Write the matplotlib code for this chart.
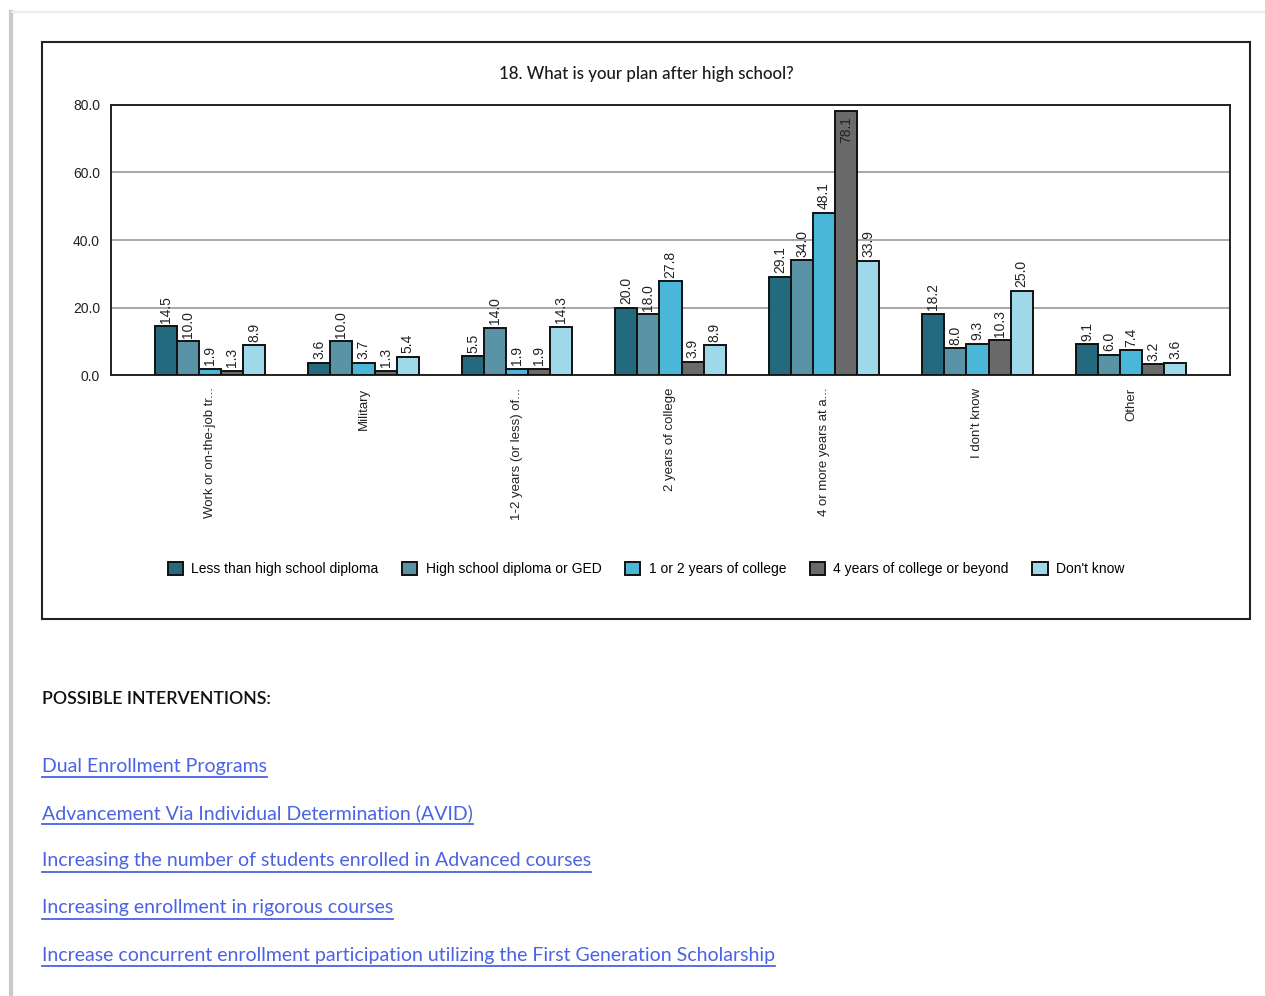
import matplotlib.pyplot as plt
import numpy as np
from matplotlib.lines import Line2D
from matplotlib.patches import Rectangle

categories = [
    "Work or on-the-job tr...",
    "Military",
    "1-2 years (or less) of...",
    "2 years of college",
    "4 or more years at a...",
    "I don't know",
    "Other",
]
series_names = [
    "Less than high school diploma",
    "High school diploma or GED",
    "1 or 2 years of college",
    "4 years of college or beyond",
    "Don't know",
]
less_than_hs = [14.5, 3.6, 5.5, 20.0, 29.1, 18.2, 9.1]
hs_or_ged = [10.0, 10.0, 14.0, 18.0, 34.0, 8.0, 6.0]
one_two_college = [1.9, 3.7, 1.9, 27.8, 48.1, 9.3, 7.4]
four_college = [1.3, 1.3, 1.9, 3.9, 78.1, 10.3, 3.2]
dont_know = [8.9, 5.4, 14.3, 8.9, 33.9, 25.0, 3.6]
y_ticks = [0.0, 20.0, 40.0, 60.0, 80.0]

interventions = [
    "Dual Enrollment Programs",
    "Advancement Via Individual Determination (AVID)",
    "Increasing the number of students enrolled in Advanced courses",
    "Increasing enrollment in rigorous courses",
    "Increase concurrent enrollment participation utilizing the First Generation Scholarship",
]

colors = ["#236a7f", "#5a93a6", "#4ab7d8", "#6a6a6a", "#9fd9e9"]
CHART_FONT = "Liberation Sans"

fig = plt.figure(figsize=(12.65, 9.96), dpi=100)
W, H = 1265, 996


def fx(px):
    return px / W


def fy(py):
    return 1 - py / H


# page edge shading
fig.add_artist(Line2D([fx(11), fx(11)], [0, fy(12)], color="#c9c9c9", lw=3, transform=fig.transFigure))
fig.add_artist(Line2D([fx(12), 1], [fy(12), fy(12)], color="#ececec", lw=1.5, transform=fig.transFigure))

# frame around the chart
fig.add_artist(Rectangle((fx(42), fy(619)), fx(1250) - fx(42), fy(42) - fy(619),
                         fill=False, edgecolor="#222222", lw=1.5, transform=fig.transFigure))

ax = fig.add_axes([fx(111), fy(375), fx(1230) - fx(111), fy(105) - fy(375)])

series = [less_than_hs, hs_or_ged, one_two_college, four_college, dont_know]
x = np.arange(len(categories))
bw = 0.1434
for j, (vals, name, col) in enumerate(zip(series, series_names, colors)):
    pos = x + (j - 2) * bw
    ax.bar(pos, vals, width=bw, color=col, edgecolor="#111111", linewidth=1.4,
           label=name, zorder=3)
    for xp, v in zip(pos, vals):
        if v > 70:
            ax.text(xp, v - 1.5, f"{v:.1f}", rotation=90, ha="center", va="top",
                    fontsize=10, family=CHART_FONT, color="#222222", zorder=4)
        else:
            ax.text(xp, v + 1.0, f"{v:.1f}", rotation=90, ha="center", va="bottom",
                    fontsize=10, family=CHART_FONT, color="#222222", zorder=4)

ax.set_xlim(-0.645, len(categories) - 1 + 0.645)
ax.set_ylim(0, 80)
ax.set_yticks(y_ticks)
ax.set_yticklabels([f"{t:.1f}" for t in y_ticks], family=CHART_FONT, fontsize=10, color="#222222")
ax.set_xticks(x)
ax.set_xticklabels(categories, rotation=90, va="top", ha="center",
                   family=CHART_FONT, fontsize=9.5, color="#222222")
ax.tick_params(axis="both", length=0)
ax.tick_params(axis="x", pad=9)
ax.tick_params(axis="y", pad=8)
ax.grid(axis="y", color="#9a9a9a", lw=1.2, zorder=0)
for side in ax.spines.values():
    side.set_color("#222222")
    side.set_linewidth(1.4)

fig.text(fx(646), fy(74), "18. What is your plan after high school?", ha="center", va="center",
         fontsize=12.2, family="Lato", fontweight="medium", color="#1a1a1a")

handles = [Rectangle((0, 0), 1, 1, facecolor=c, edgecolor="#111111", lw=1.4) for c in colors]
fig.legend(handles, series_names, loc="center", bbox_to_anchor=(fx(646), fy(569)), ncol=5,
           frameon=False, prop={"family": CHART_FONT, "size": 10}, handlelength=1.1,
           handleheight=1.1, handletextpad=0.6, columnspacing=1.7)

fig.text(fx(42), fy(699), "POSSIBLE INTERVENTIONS:", ha="left", va="center",
         fontsize=12.8, family="Lato", fontweight="semibold", color="#111111")

link_color = "#4a63e4"
link_texts = []
for i, label in enumerate(interventions):
    y_px = 766 + i * 47.3
    t = fig.text(fx(42), fy(y_px), label, ha="left", va="center",
                 fontsize=14, family="Lato", color=link_color)
    link_texts.append((t, y_px))

# underline the link texts
fig.canvas.draw()
renderer = fig.canvas.get_renderer()
for t, y_px in link_texts:
    bb = t.get_window_extent(renderer)
    fig.add_artist(Line2D([bb.x0 / W, bb.x1 / W], [fy(y_px + 11), fy(y_px + 11)],
                          color=link_color, lw=1.3, transform=fig.transFigure))

fig.savefig("out.png", dpi=100)
